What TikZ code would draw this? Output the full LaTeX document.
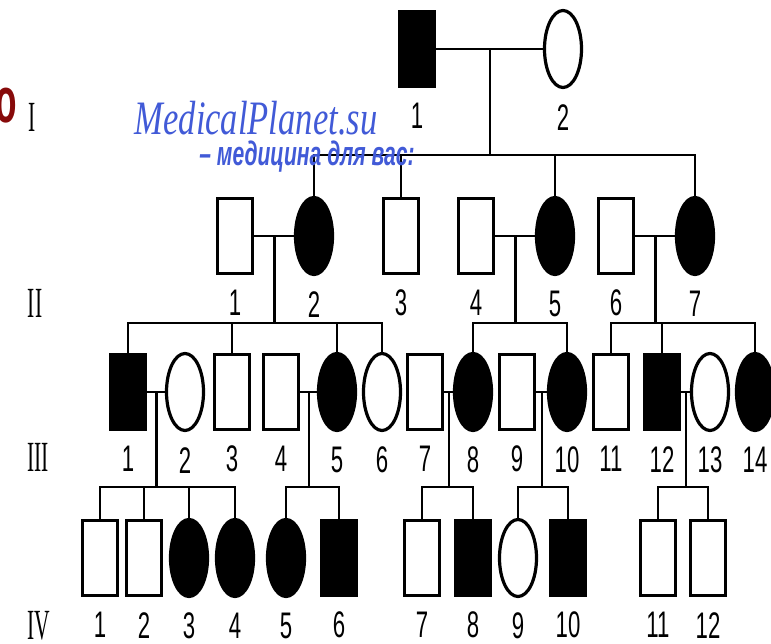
\documentclass[tikz,border=0pt]{standalone}
\usepackage{fontspec}
\usetikzlibrary{shapes.geometric,calc}
\newfontfamily\numfont{Liberation Sans}[FakeStretch=0.6]
\newfontfamily\romfont{Liberation Serif}[FakeStretch=0.5]
\newfontfamily\markfont{Liberation Serif}[FakeStretch=0.72]
\newfontfamily\tagfont{Liberation Sans}[FakeStretch=0.62]
\newfontfamily\redfont{Liberation Sans}[FakeStretch=0.55]
\definecolor{markblue}{RGB}{65,90,215}
\definecolor{cutred}{RGB}{135,10,10}
\begin{document}
\begin{tikzpicture}[
    x=1pt, y=-1pt, line width=2.8pt,
    person/.style={draw, line width=3.2pt, inner sep=0pt},
    male/.style={person, rectangle, minimum width=35pt, minimum height=75pt},
    female/.style={person, ellipse, minimum width=37pt, minimum height=77pt},
    aff/.style={fill=black},
    num/.style={font=\numfont\fontsize{37}{37}\selectfont, inner sep=0pt},
    gen/.style={font=\romfont\fontsize{43}{43}\selectfont, inner sep=0pt}
]
\useasboundingbox (0,0) rectangle (771,644);

% Helper macro for one person with its number below
\newcommand{\indiv}[5]{% row, number, x, y, style
    \node[#5] (#1#2) at (#3,#4) {};
    \node[num] (#1#2n) at ([yshift=-28pt]#1#2.south) {#2};
}

% Helper macro for a couple and the bar over their children
\newcommand{\family}[5]{% name, parent 1, parent 2, bar y, children
    \draw (#2) -- (#3);
    \coordinate (#1) at ($(#2)!0.5!(#3)$);
    \coordinate (#1lvl) at (0,#4);
    \coordinate (#1bar) at (#1 |- #1lvl);
    \draw (#1) -- (#1bar);
    \foreach \kid in {#5} \draw (\kid.north) |- (#1bar);
}

% Generation labels
\node[gen] (gI) at (32,117) {I};
\node[gen] (gII) at (35,303) {II};
\node[gen] (gIII) at (38,457) {III};
\node[gen] (gIV) at (39,626) {IV};

% Generation I
\indiv{I}{1}{417}{49}{male, aff}
\indiv{I}{2}{563}{49}{female}

% Generation II
\indiv{II}{1}{235}{236}{male}
\indiv{II}{2}{314}{236}{female, aff}
\indiv{II}{3}{401}{236}{male}
\indiv{II}{4}{476}{236}{male}
\indiv{II}{5}{555}{236}{female, aff}
\indiv{II}{6}{616}{236}{male}
\indiv{II}{7}{695}{236}{female, aff}

% Generation III
\indiv{III}{1}{128}{392}{male, aff}
\indiv{III}{2}{185}{392}{female}
\indiv{III}{3}{232}{392}{male}
\indiv{III}{4}{281}{392}{male}
\indiv{III}{5}{337}{392}{female, aff}
\indiv{III}{6}{382}{392}{female}
\indiv{III}{7}{425}{392}{male}
\indiv{III}{8}{473}{392}{female, aff}
\indiv{III}{9}{517}{392}{male}
\indiv{III}{10}{567}{392}{female, aff}
\indiv{III}{11}{611}{392}{male}
\indiv{III}{12}{662}{392}{male, aff}
\indiv{III}{13}{710}{392}{female}
\indiv{III}{14}{755}{392}{female, aff}

% Generation IV
\indiv{IV}{1}{100}{558}{male}
\indiv{IV}{2}{144}{558}{male}
\indiv{IV}{3}{189}{558}{female, aff}
\indiv{IV}{4}{235}{558}{female, aff}
\indiv{IV}{5}{286}{558}{female, aff}
\indiv{IV}{6}{339}{558}{male, aff}
\indiv{IV}{7}{422}{558}{male}
\indiv{IV}{8}{473}{558}{male, aff}
\indiv{IV}{9}{518}{558}{female}
\indiv{IV}{10}{568}{558}{male, aff}
\indiv{IV}{11}{658}{558}{male}
\indiv{IV}{12}{708}{558}{male}

% Couples and offspring
\family{fA}{I1}{I2}{155}{II2,II3,II5,II7}
\family{fB}{II1}{II2}{323}{III1,III3,III5,III6}
\family{fC}{II4}{II5}{323}{III8,III10}
\family{fD}{II6}{II7}{323}{III11,III12,III14}
\family{fE}{III1}{III2}{487}{IV1,IV2,IV3,IV4}
\family{fF}{III4}{III5}{487}{IV5,IV6}
\family{fG}{III7}{III8}{487}{IV7,IV8}
\family{fH}{III9}{III10}{487}{IV9,IV10}
\family{fK}{III12}{III13}{487}{IV11,IV12}

% Watermark and the cut letter at the left edge
\node[font=\redfont\bfseries\fontsize{64}{64}\selectfont, text=cutred, inner sep=0pt] (cut) at (6,106) {о};
\node[font=\markfont\itshape\fontsize{48}{48}\selectfont, text=markblue, anchor=base, inner sep=0pt] (mark) at (256,135) {MedicalPlanet.su};
\node[font=\tagfont\itshape\bfseries\fontsize{34}{34}\selectfont, text=markblue, anchor=base, inner sep=0pt] (tag) at (307,166) {– медицина для вас:};

\end{tikzpicture}
\end{document}
